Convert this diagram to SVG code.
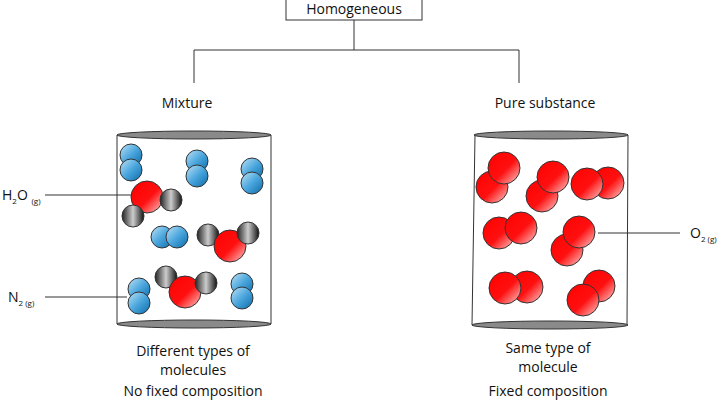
<svg xmlns="http://www.w3.org/2000/svg" width="720" height="400" viewBox="0 0 720 400">
<defs>
<linearGradient id="gb" x1="0" y1="0" x2="1" y2="1"><stop offset="0" stop-color="#bfe3f7"/><stop offset="0.5" stop-color="#4aa6dd"/><stop offset="1" stop-color="#0b6aa8"/></linearGradient>
<linearGradient id="gh" x1="0" y1="0" x2="1" y2="0"><stop offset="0" stop-color="#222"/><stop offset="0.5" stop-color="#ccc"/><stop offset="1" stop-color="#111"/></linearGradient>
<linearGradient id="gr" x1="0" y1="0" x2="1" y2="1"><stop offset="0" stop-color="#ff0000"/><stop offset="0.55" stop-color="#ff1010"/><stop offset="1" stop-color="#ffd0d0"/></linearGradient>
</defs>
<style>
text{font-family:"Open Sans","Liberation Sans",sans-serif;font-size:14px;fill:#111}
.s{font-size:8px}
.l{stroke:#333;stroke-width:1;fill:none}
.cyl{fill:none;stroke:#333;stroke-width:1}
.cap{fill:#8a8a8a;stroke:#333;stroke-width:1}
.n{fill:url(#gb);stroke:#333;stroke-width:1}
.h{fill:url(#gh);stroke:#333;stroke-width:1}
.o{fill:url(#gr);stroke:#333;stroke-width:1}
</style>
<rect width="720" height="400" fill="#fff"/>
<g id="root"><rect x="286" y="-2" width="136" height="22" fill="#fff" stroke="#333"/><text x="354" y="14" text-anchor="middle">Homogeneous</text></g>
<g id="connectors">
<path class="l" d="M354 20V50M194 83V50H519V83"/>
<path class="l" d="M45 195H131M45 297H127M598 233H680"/>
</g>
<g id="mixture">
<text x="187" y="108" text-anchor="middle">Mixture</text>
<path class="cyl" d="M117 135L117 324H271V135Z"/>
<ellipse class="cap" cx="194" cy="135" rx="77" ry="4"/>
<ellipse class="cap" cx="194" cy="324" rx="77" ry="4"/>
<circle class="n" cx="131" cy="155" r="11"/><circle class="n" cx="131" cy="170" r="11"/>
<circle class="n" cx="197" cy="161" r="11"/><circle class="n" cx="197" cy="176" r="11"/>
<circle class="n" cx="252" cy="169" r="11"/><circle class="n" cx="252" cy="183" r="11"/>
<circle class="o" cx="147" cy="197" r="16"/><circle class="h" cx="171" cy="200" r="11"/><circle class="h" cx="133" cy="216" r="11"/>
<circle class="n" cx="162" cy="237" r="11"/><circle class="n" cx="177" cy="237" r="11"/>
<circle class="h" cx="208" cy="235" r="11"/><circle class="o" cx="230" cy="246" r="16"/><circle class="h" cx="248" cy="233" r="11"/>
<circle class="h" cx="166" cy="277" r="11"/><circle class="o" cx="185" cy="292" r="16"/><circle class="h" cx="206" cy="283" r="11"/>
<circle class="n" cx="139" cy="289" r="11"/><circle class="n" cx="139" cy="303" r="11"/>
<circle class="n" cx="242" cy="284" r="11"/><circle class="n" cx="242" cy="298" r="11"/>
<text x="2" y="200">H<tspan class="s" dy="4">2</tspan><tspan dy="-4">O </tspan><tspan class="s" dy="4">(g)</tspan></text>
<text x="8" y="302">N<tspan class="s" dy="4">2 (g)</tspan></text>
<text x="193" y="356" text-anchor="middle">Different types of</text>
<text x="193" y="375" text-anchor="middle">molecules</text>
<text x="193" y="396" text-anchor="middle">No fixed composition</text>
</g>
<g id="pure">
<text x="545" y="108" text-anchor="middle">Pure substance</text>
<path class="cyl" d="M475 135L472 325H627L628 135Z"/>
<ellipse class="cap" cx="551" cy="135" rx="77" ry="4"/>
<ellipse class="cap" cx="550" cy="325" rx="78" ry="4"/>
<circle class="o" cx="492" cy="187" r="16"/><circle class="o" cx="504" cy="168" r="16"/>
<circle class="o" cx="542" cy="196" r="16"/><circle class="o" cx="553" cy="177" r="16"/>
<circle class="o" cx="608" cy="183" r="16"/><circle class="o" cx="587" cy="184" r="16"/>
<circle class="o" cx="499" cy="233" r="16"/><circle class="o" cx="521" cy="228" r="16"/>
<circle class="o" cx="567" cy="250" r="16"/><circle class="o" cx="579" cy="232" r="16"/>
<circle class="o" cx="527" cy="287" r="16"/><circle class="o" cx="505" cy="288" r="16"/>
<circle class="o" cx="599" cy="286" r="16"/><circle class="o" cx="583" cy="300" r="16"/>
<text x="690" y="238">O<tspan class="s" dy="4">2 (g)</tspan></text>
<text x="548" y="353" text-anchor="middle">Same type of</text>
<text x="548" y="372" text-anchor="middle">molecule</text>
<text x="548" y="396" text-anchor="middle">Fixed composition</text>
</g>
</svg>
